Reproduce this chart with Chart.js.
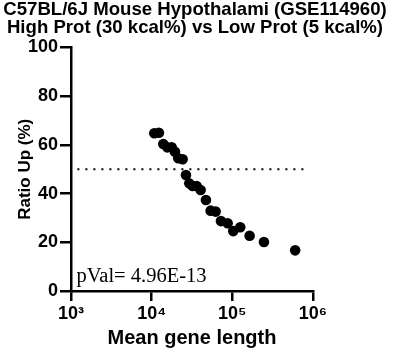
<!DOCTYPE html>
<html>
<head>
<meta charset="utf-8">
<script src="https://cdn.jsdelivr.net/npm/chart.js@4"></script>
<style>
html,body{margin:0;padding:0;background:#fff;}
</style>
</head>
<body>
<canvas id="c" width="415" height="356"></canvas>
<script>
const titleLines = ["C57BL/6J Mouse Hypothalami (GSE114960)", "High Prot (30 kcal%) vs Low Prot (5 kcal%)"];
const geneLength = [10770, 12300, 13930, 15600, 17700, 19440, 21370, 24220, 26610, 29250, 32220, 36110, 40470, 47070, 53840, 62100, 72240, 87460, 102600, 125300, 163800, 246500, 601000];
const ratioUp = [64.8, 65.0, 60.4, 59.0, 59.0, 57.2, 54.5, 54.1, 47.6, 44.2, 43.1, 43.1, 41.5, 37.4, 33.0, 32.6, 28.7, 27.8, 24.6, 26.2, 22.7, 20.1, 16.7];
const refLineX = [1200, 850000];
const refLineY = [50, 50];
const xTicks = [1000, 10000, 100000, 1000000];
const xTickLabels = ["10\u00B3", "10\u2074", "10\u2075", "10\u2076"];
const yTicks = [0, 20, 40, 60, 80, 100];
const pValText = "pVal= 4.96E-13";
const xTitle = "Mean gene length";
const yTitle = "Ratio Up (%)";

const pts = geneLength.map((x, i) => ({x: x, y: ratioUp[i]}));
const refPts = refLineX.map((x, i) => ({x: x, y: refLineY[i]}));

const textPlugin = {
  id: 'texts',
  afterDraw(chart) {
    const ctx = chart.ctx;
    const xs = chart.scales.x, ys = chart.scales.y;
    ctx.save();
    ctx.fillStyle = '#000';
    ctx.textBaseline = 'alphabetic';
    ctx.font = "bold 18.6px 'Liberation Sans', Arial, sans-serif";
    ctx.textAlign = 'center';
    ctx.fillText(titleLines[0], 195, 14.5);
    ctx.fillText(titleLines[1], 195, 32.5);
    ctx.font = "20.5px 'Liberation Serif', 'Times New Roman', serif";
    ctx.textAlign = 'left';
    ctx.fillText(pValText, xs.left + 5.5, ys.bottom - 9.3);
    ctx.restore();
  }
};

const boldFont = (s) => ({family: "'Liberation Sans', Arial, sans-serif", size: s, weight: 'bold'});

new Chart(document.getElementById('c'), {
  type: 'scatter',
  data: {
    datasets: [
      {data: pts, backgroundColor: '#000', borderColor: '#000', pointRadius: 5.3, pointHoverRadius: 5.3, borderWidth: 0},
      {type: 'line', data: refPts, borderColor: '#000', borderWidth: 2, borderDash: [2, 6], pointRadius: 0, fill: false}
    ]
  },
  options: {
    responsive: false,
    devicePixelRatio: 1,
    animation: false,
    layout: {padding: {left: 0, right: 102, top: 47.5, bottom: 0}},
    plugins: {
      legend: {display: false},
      tooltip: {enabled: false},
      title: {display: false}
    },
    scales: {
      x: {
        type: 'logarithmic', min: 1000, max: 1000000,
        afterBuildTicks(s) { s.ticks = xTicks.map(v => ({value: v})); },
        afterFit(s) { s.height = 65; },
        ticks: {color: '#000', font: boldFont(18), padding: 2, maxRotation: 0,
          callback: (v) => { const i = xTicks.indexOf(v); return i >= 0 ? xTickLabels[i] : ''; }},
        grid: {display: true, drawOnChartArea: false, drawTicks: true, tickLength: 10, color: '#000', lineWidth: 2.5},
        border: {display: true, color: '#000', width: 2.5},
        title: {display: true, text: xTitle, color: '#000', font: boldFont(20), padding: {top: 0, bottom: 5.7}}
      },
      y: {
        min: 0, max: 100,
        afterBuildTicks(s) { s.ticks = yTicks.map(v => ({value: v})); },
        afterFit(s) { s.width = 71; },
        ticks: {color: '#000', font: boldFont(18), padding: 2},
        grid: {display: true, drawOnChartArea: false, drawTicks: true, tickLength: 11, color: '#000', lineWidth: 2.5},
        border: {display: true, color: '#000', width: 2.5},
        title: {display: true, text: yTitle, color: '#000', font: boldFont(17), padding: {top: 15.5, bottom: 0}}
      }
    }
  },
  plugins: [textPlugin]
});
</script>
</body>
</html>
